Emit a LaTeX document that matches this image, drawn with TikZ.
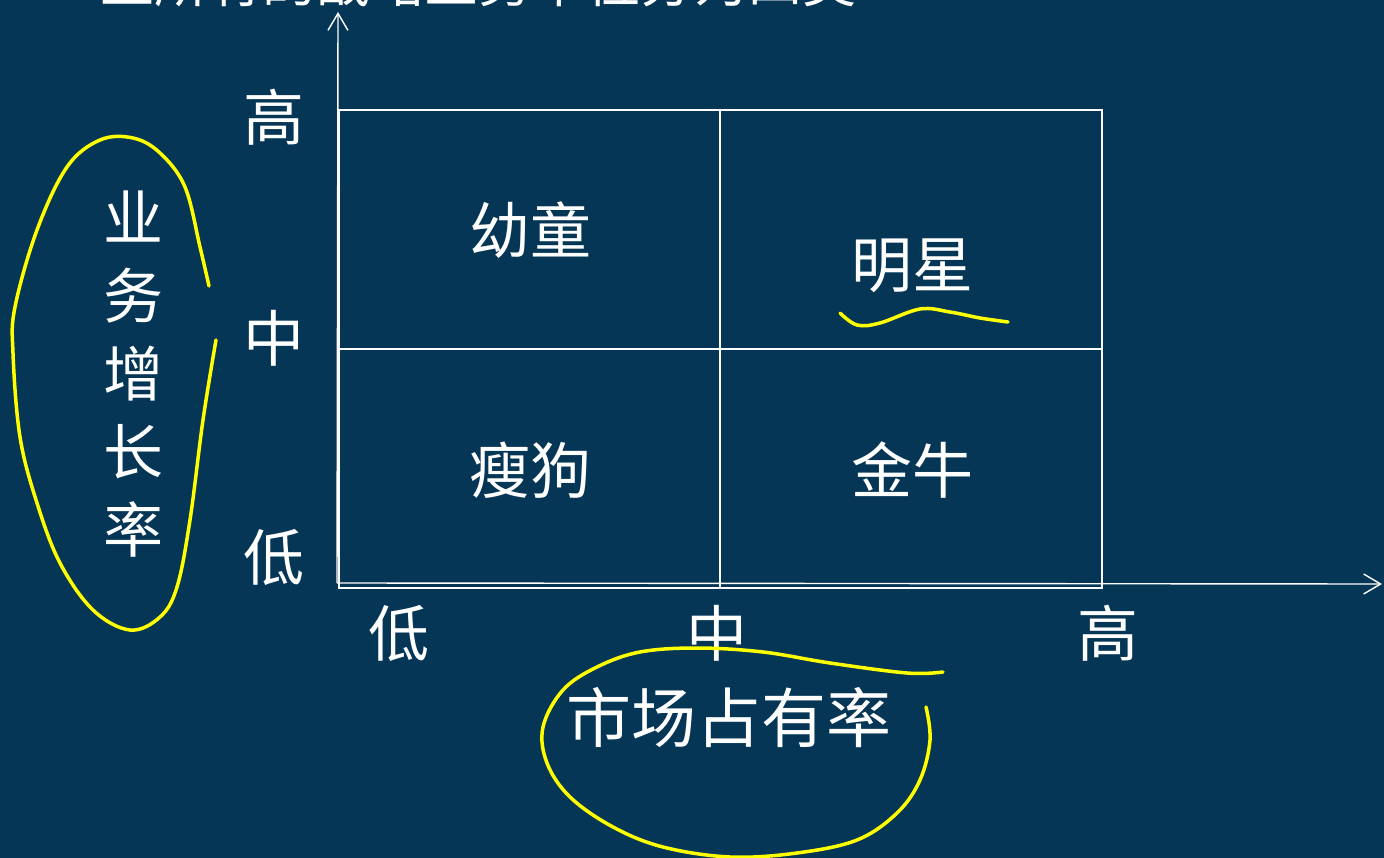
\documentclass[tikz,border=0pt]{standalone}
\usepackage{fontspec}
\setmainfont{Noto Sans CJK SC}
\usetikzlibrary{arrows.meta}
\definecolor{bg}{RGB}{5,54,86}
\definecolor{hl}{RGB}{255,255,0}
\tikzset{
  gridline/.style={draw=white, line width=2pt},
  axisline/.style={draw=white, line width=1.4pt, -{Straight Barb[length=17pt,width=20pt,line width=1.4pt]}},
  lbl/.style={text=white, inner sep=0pt, font=\fontsize{61}{62}\selectfont},
  quad/.style={text=white, inner sep=0pt, font=\fontsize{61}{62}\selectfont},
  hlmark/.style={draw=hl, line width=3.5pt, line cap=round, line join=round}
}
\begin{document}
\begin{tikzpicture}[x=1pt,y=-1pt]
\fill[bg] (0,0) rectangle (1384,858);
\useasboundingbox (0,0) rectangle (1384,858);
\clip (0,0) rectangle (1384,858);
% cut-off title (only its lower edge shows in the reference)
\node[text=white, inner sep=0pt, anchor=base west, font=\fontsize{54}{56}\selectfont] (title) at (100,3) {上所有的战略业务单位分为四类};
% grid
\coordinate (tl) at (339,110);
\coordinate (br) at (1102,588);
\coordinate (tm) at (720,110);
\coordinate (bm) at (720,588);
\coordinate (ml) at (339,349);
\coordinate (mr) at (1102,349);
\draw[gridline] (tl) rectangle (br);
\draw[gridline] (tm) -- (bm);
\draw[gridline] (ml) -- (mr);
% axes
\coordinate (o) at (337,583);
\coordinate (ytop) at (338,12);
\coordinate (xend) at (1382,584);
\draw[axisline] (o) -- (ytop);
\draw[axisline] (o) -- (xend);
% axis labels
\node[lbl] (yh) at (274,117) {高};
\node[lbl] (ym) at (274,338) {中};
\node[lbl] (yl) at (274,558) {低};
\node[lbl] (xl) at (399,633) {低};
\node[lbl] (xm) at (717,633) {中};
\node[lbl] (xh) at (1108,633) {高};
% quadrants
\node[quad] (q1) at (530,230) {幼童};
\node[quad] (q2) at (912,266) {明星};
\node[quad] (q3) at (530,470) {瘦狗};
\node[quad] (q4) at (912,470) {金牛};
% axis titles
\node[text=white, inner sep=0pt, align=center, font=\fontsize{60}{78}\selectfont] (yt) at (133,374) {业\\务\\增\\长\\率};
\node[text=white, inner sep=0pt, font=\fontsize{65}{66}\selectfont] (xt) at (729,718) {市场占有率};
% yellow annotations
\draw[hlmark] plot[smooth, tension=0.6] coordinates {(209,286) (200,247) (185,187) (160,153) (133,138) (100,140) (67,167) (37,230) (15,307) (13,353) (20,437) (37,503) (60,563) (93,610) (130,630) (160,617) (177,587) (190,520) (203,420) (216,340)};
\draw[hlmark] plot[smooth, tension=0.6] coordinates {(943,672) (907,673) (830,663) (763,652) (697,648) (640,652) (597,667) (563,690) (543,727) (547,763) (570,797) (613,827) (663,847) (730,857) (797,853) (857,840) (897,813) (920,780) (930,740) (926,707)};
\draw[hlmark] plot[smooth, tension=0.6] coordinates {(840,313) (857,325) (880,323) (920,309) (950,312) (980,318) (1008,322)};
\end{tikzpicture}
\end{document}
